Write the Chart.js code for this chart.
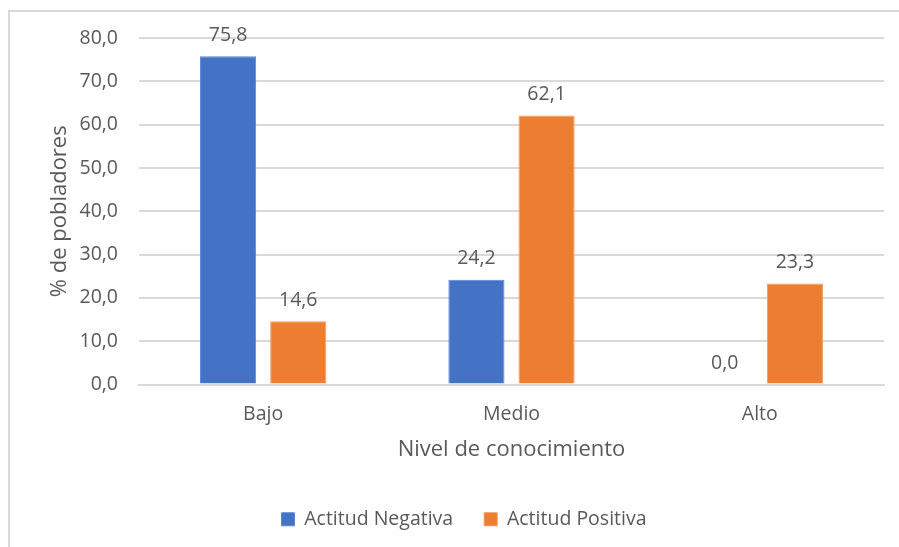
<!DOCTYPE html>
<html>
<head>
<meta charset="utf-8">
<script src="https://cdn.jsdelivr.net/npm/chart.js@4.4.1/dist/chart.umd.min.js"></script>
<style>
  body { margin: 0; background: #fff; }
  #frame { position: absolute; left: 8px; top: 10px; width: 900px; height: 560px; border: 2px solid #d9d9d9; }
  #wrap { position: absolute; left: 0; top: 0; width: 899px; height: 547px; }
</style>
</head>
<body>
<div id="frame"></div>
<div id="wrap"><canvas id="conocimiento"></canvas></div>
<script>
// categorias y series
var niveles = ["Bajo", "Medio", "Alto"];
var actitudNegativa = [75.8, 24.2, 0.0];
var actitudPositiva = [14.6, 62.1, 23.3];

var gris = "#595959";
var fuente = "'Open Sans', 'Liberation Sans', sans-serif";

// etiquetas con el valor encima de cada barra
var etiquetas = {
  id: "etiquetas",
  afterDatasetsDraw: function(chart) {
    var ctx = chart.ctx;
    ctx.save();
    ctx.font = "19.5px " + fuente;
    ctx.fillStyle = gris;
    ctx.textAlign = "center";
    ctx.textBaseline = "bottom";
    chart.data.datasets.forEach(function(ds, i) {
      chart.getDatasetMeta(i).data.forEach(function(bar, j) {
        ctx.fillText(ds.data[j].toFixed(1).replace(".", ","), bar.x, bar.y - 11);
      });
    });
    ctx.restore();
  }
};

new Chart("conocimiento", {
  type: "bar",
  data: {
    labels: niveles,
    datasets: [
      { label: "Actitud Negativa", data: actitudNegativa, backgroundColor: "#4472c4", borderColor: "#5b86d6", borderWidth: 1 },
      { label: "Actitud Positiva", data: actitudPositiva, backgroundColor: "#ed7d31", borderColor: "#f29a5c", borderWidth: 1 }
    ]
  },
  options: {
    responsive: true,
    maintainAspectRatio: false,
    animation: false,
    layout: { padding: { top: 38, right: 15, left: 44, bottom: 8 } },
    datasets: { bar: { categoryPercentage: 0.565, barPercentage: 0.8 } },
    plugins: {
      tooltip: { enabled: false },
      legend: {
        position: "bottom",
        labels: { boxWidth: 13, boxHeight: 13, color: gris, font: { family: fuente, size: 19.5 }, padding: 31 }
      }
    },
    scales: {
      x: {
        grid: { display: false },
        border: { color: "#d9d9d9", width: 2 },
        ticks: { color: gris, font: { family: fuente, size: 19.5 }, padding: 10 },
        title: { display: true, text: "Nivel de conocimiento", color: gris, font: { family: fuente, size: 22 }, padding: { top: 4, bottom: 16 } },
        afterFit: function(s) { s.height = 94; }
      },
      y: {
        min: 0,
        max: 80,
        ticks: {
          stepSize: 10,
          color: gris,
          padding: 21,
          font: { family: fuente, size: 19.5 },
          callback: function(v) { return v.toFixed(1).replace(".", ","); }
        },
        grid: { color: "#d9d9d9", lineWidth: 2, drawTicks: false },
        border: { display: false },
        title: { display: true, text: "% de pobladores", color: gris, font: { family: fuente, size: 22 }, padding: { top: 3 } },
        afterFit: function(s) { s.width = 95; }
      }
    }
  },
  plugins: [etiquetas]
});
</script>
</body>
</html>
